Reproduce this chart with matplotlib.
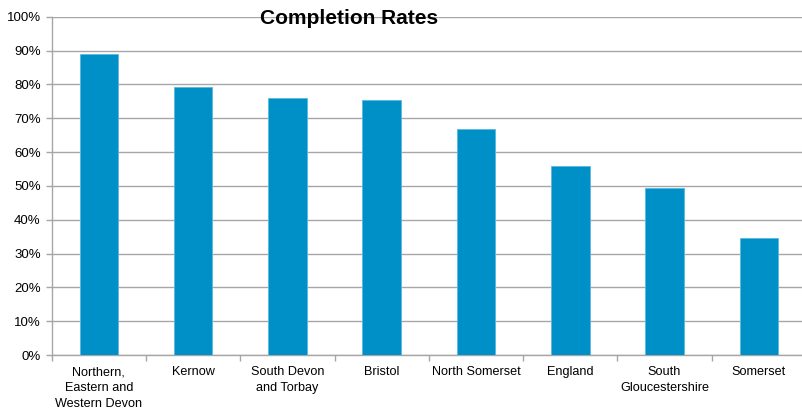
import matplotlib
matplotlib.use('Agg')
import matplotlib.pyplot as plt
import matplotlib.ticker as mticker
import numpy as np

plt.rcParams['font.family'] = ['Liberation Sans', 'DejaVu Sans']

# ── Data ────────────────────────────────────────────────────────────────
areas = ['Northern,\nEastern and\nWestern Devon', 'Kernow', 'South Devon\nand Torbay',
         'Bristol', 'North Somerset', 'England', 'South\nGloucestershire', 'Somerset']
completion = [0.89, 0.793, 0.759, 0.753, 0.667, 0.559, 0.493, 0.346]
yticks = np.arange(0, 1.01, 0.1)

BAR = '#0090C8'
GRID = '#A6A6A6'

fig = plt.figure(figsize=(8.02, 4.11), dpi=100)
ax = fig.add_axes([51.7 / 802, 1 - 355 / 411, (806 - 51.7) / 802, (355 - 16.7) / 411])

x = np.arange(len(areas))
ax.bar(x, completion, width=0.41, color=BAR, edgecolor='#5CB8DE', linewidth=0.6, zorder=3)

ax.set_xlim(-0.5, len(areas) - 0.5)
ax.set_ylim(0, 1.0)
ax.set_yticks(yticks)
ax.yaxis.set_major_formatter(mticker.PercentFormatter(1.0, decimals=0))
ax.grid(axis='y', color=GRID, linewidth=1.0, zorder=0)

# category boundary ticks on the x axis
ax.set_xticks(np.arange(-0.5, len(areas), 1.0))
ax.set_xticklabels([])
ax.set_xticks(x, minor=True)
ax.set_xticklabels(areas, minor=True, fontsize=9.1, linespacing=1.45)
ax.tick_params(axis='x', which='minor', length=0, pad=8)
ax.tick_params(axis='x', which='major', length=4, color=GRID, width=1)
ax.tick_params(axis='y', length=4, color=GRID, width=1, labelsize=9.5, pad=4)

for s in ['top', 'right']:
    ax.spines[s].set_visible(False)
for s in ['left', 'bottom']:
    ax.spines[s].set_color(GRID)
    ax.spines[s].set_linewidth(1.0)

fig.text(349 / 802, 1 - 18 / 411, 'Completion Rates', ha='center', va='center',
         fontsize=15, fontweight='bold')

fig.savefig('out.png', dpi=100)
